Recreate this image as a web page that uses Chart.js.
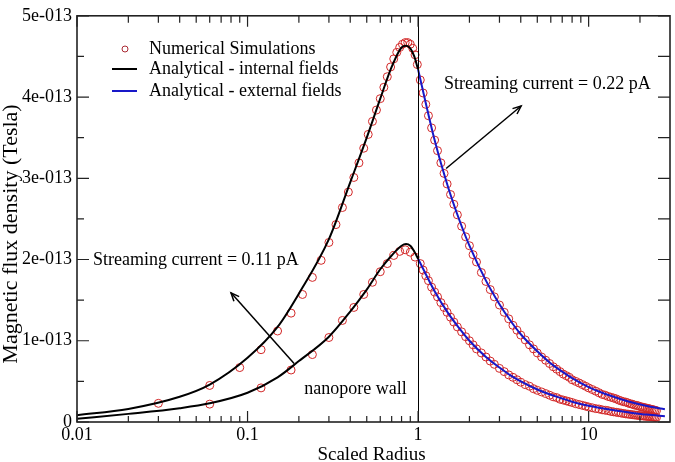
<!DOCTYPE html>
<html>
<head>
<meta charset="utf-8">
<script src="https://cdn.jsdelivr.net/npm/chart.js@4/dist/chart.umd.min.js"></script>
<style>
  body { margin: 0; background: #fff; }
  #wrap { width: 675px; height: 462px; }
</style>
</head>
<body>
<div id="wrap"><canvas id="myChart" width="675" height="462"></canvas></div>
<script>
// y values are in units of 1e-13 Tesla

// axis ticks
const xMajor = [0.01, 0.1, 1, 10];
const xTickLabels = ['0.01', '0.1', '1', '10'];
const xMinor = [0.02, 0.03, 0.04, 0.05, 0.06, 0.07, 0.08, 0.09,
                0.2, 0.3, 0.4, 0.5, 0.6, 0.7, 0.8, 0.9,
                2, 3, 4, 5, 6, 7, 8, 9, 20];
const yMajor = [0, 1, 2, 3, 4, 5];
const yTickLabels = ['0', '1e-013', '2e-013', '3e-013', '4e-013', '5e-013'];
const yMinor = [0.5, 1.5, 2.5, 3.5, 4.5];

// analytical - internal fields (black)
const inLineX = [0.01, 0.02, 0.04, 0.06, 0.1, 0.15, 0.2, 0.3, 0.4, 0.5, 0.6, 0.7, 0.8, 0.85, 0.9, 0.95, 1.0];
const inLineUpper = [0.084, 0.16, 0.31, 0.46, 0.79, 1.17, 1.58, 2.25, 2.95, 3.50, 3.98, 4.37, 4.61, 4.63, 4.60, 4.50, 4.34];
const inLineLower = [0.04, 0.10, 0.17, 0.23, 0.36, 0.55, 0.75, 1.05, 1.36, 1.63, 1.88, 2.05, 2.17, 2.19, 2.17, 2.10, 2.01];

// analytical - external fields (blue)
const outLineX = [1, 1.25, 1.5, 1.75, 2, 2.5, 3, 3.5, 4, 5, 6, 7, 8, 10, 12, 15, 18, 22, 28];
const outLineUpper = [4.34, 3.47, 2.89, 2.48, 2.17, 1.74, 1.45, 1.24, 1.08, 0.87, 0.72, 0.62, 0.54, 0.43, 0.36, 0.29, 0.24, 0.197, 0.157];
const outLineLower = [2.01, 1.61, 1.34, 1.15, 1.00, 0.80, 0.67, 0.57, 0.50, 0.40, 0.335, 0.29, 0.25, 0.20, 0.168, 0.134, 0.112, 0.091, 0.072];

// numerical simulations (red circles), inside
const simUpperInX = [0.03, 0.06, 0.09, 0.12, 0.15, 0.18, 0.21, 0.24, 0.27, 0.30, 0.33, 0.36, 0.39, 0.42, 0.45, 0.48,
                     0.51, 0.54, 0.57, 0.60, 0.63, 0.66, 0.69, 0.72, 0.75, 0.78, 0.81, 0.84, 0.87, 0.90, 0.93, 0.96, 0.99];
const simUpperIn = [0.23, 0.45, 0.67, 0.89, 1.12, 1.34, 1.57, 1.78, 1.99, 2.21, 2.43, 2.64, 2.83, 3.01, 3.19, 3.37,
                    3.54, 3.70, 3.84, 3.98, 4.12, 4.25, 4.37, 4.47, 4.55, 4.61, 4.65, 4.67, 4.67, 4.65, 4.60, 4.52, 4.40];
const simLowerInX = [0.06, 0.12, 0.18, 0.24, 0.30, 0.36, 0.42, 0.48, 0.54, 0.60, 0.66, 0.72, 0.78, 0.84, 0.90, 0.96];
const simLowerIn = [0.22, 0.42, 0.64, 0.83, 1.04, 1.25, 1.41, 1.57, 1.72, 1.85, 1.95, 2.05, 2.10, 2.12, 2.09, 2.03];

// numerical simulations, outside
const simOutX = [1.03, 1.07, 1.11, 1.15, 1.2, 1.25, 1.3, 1.36, 1.42, 1.48, 1.55, 1.62, 1.7, 1.8, 1.9, 2.0,
                 2.1, 2.2, 2.35, 2.5, 2.65, 2.8, 3.0, 3.2, 3.4, 3.6, 3.8, 4.0, 4.25, 4.5, 4.75, 5.0,
                 5.3, 5.6, 5.9, 6.2, 6.5, 6.8, 7.1, 7.4, 7.7, 8.0, 8.4, 8.8, 9.2, 9.6, 10, 10.5,
                 11, 11.5, 12, 12.5, 13, 13.5, 14, 14.5, 15, 15.5, 16, 16.5, 17, 17.5, 18, 18.5,
                 19, 19.5, 20, 20.5, 21, 21.5, 22, 22.5, 23, 23.5, 24, 24.5, 25];
const simUpperOut = [4.21, 4.05, 3.91, 3.77, 3.62, 3.47, 3.34, 3.19, 3.06, 2.93, 2.80, 2.68, 2.55, 2.41, 2.28, 2.17,
                     2.06, 1.97, 1.84, 1.73, 1.63, 1.54, 1.44, 1.35, 1.27, 1.19, 1.13, 1.07, 1.01, 0.95, 0.90, 0.85,
                     0.80, 0.76, 0.72, 0.68, 0.65, 0.62, 0.59, 0.57, 0.55, 0.52, 0.50, 0.48, 0.46, 0.44, 0.42, 0.40,
                     0.38, 0.36, 0.34, 0.33, 0.315, 0.305, 0.295, 0.285, 0.27, 0.26, 0.25, 0.245, 0.235, 0.225, 0.22, 0.21,
                     0.205, 0.20, 0.19, 0.185, 0.18, 0.175, 0.17, 0.165, 0.16, 0.155, 0.15, 0.145, 0.14];
const simLowerOut = [1.95, 1.87, 1.80, 1.74, 1.66, 1.60, 1.54, 1.47, 1.41, 1.35, 1.29, 1.23, 1.17, 1.11, 1.05, 1.00,
                     0.95, 0.90, 0.85, 0.80, 0.75, 0.71, 0.66, 0.62, 0.58, 0.55, 0.52, 0.49, 0.46, 0.44, 0.41, 0.39,
                     0.37, 0.35, 0.33, 0.31, 0.30, 0.28, 0.27, 0.26, 0.25, 0.24, 0.225, 0.215, 0.205, 0.195, 0.185, 0.175,
                     0.165, 0.16, 0.15, 0.145, 0.14, 0.13, 0.125, 0.12, 0.115, 0.11, 0.105, 0.10, 0.097, 0.094, 0.09, 0.087,
                     0.084, 0.081, 0.078, 0.076, 0.073, 0.071, 0.069, 0.067, 0.065, 0.063, 0.061, 0.059, 0.057];

// annotations (data coordinates)
const wallX = 1;
const upperArrow = { from: [1.46, 3.12], to: [4.02, 3.89] };
const lowerArrow = { from: [0.1875, 0.72], to: [0.080, 1.59] };
const notes = [
    { text: 'Streaming current = 0.22 pA', x: 1.42, y: 4.10 },
    { text: 'Streaming current = 0.11 pA', x: 0.0124, y: 1.93 },
    { text: 'nanopore wall', x: 0.215, y: 0.35 }
];

const RED = 'rgb(210,40,40)';
const BLUE = 'rgb(24,24,200)';
const FONT = '"Liberation Serif", "Times New Roman", serif';

function pts(xs, ys) {
    return xs.map((x, i) => ({ x: x, y: ys[i] }));
}

function simSet(xs, ys) {
    return {
        data: pts(xs, ys),
        showLine: false,
        pointStyle: 'circle',
        pointRadius: 4,
        pointBorderWidth: 1,
        pointBorderColor: RED,
        pointBackgroundColor: 'rgba(0,0,0,0)',
        order: 2
    };
}

function lineSet(xs, ys, color) {
    return {
        data: pts(xs, ys),
        showLine: true,
        borderColor: color,
        borderWidth: 2,
        pointRadius: 0,
        cubicInterpolationMode: 'monotone',
        order: 1
    };
}

function arrow(ctx, x1, y1, x2, y2) {
    ctx.beginPath();
    ctx.moveTo(x1, y1);
    ctx.lineTo(x2, y2);
    ctx.stroke();
    let a = Math.atan2(y2 - y1, x2 - x1);
    let len = 9;
    ctx.beginPath();
    ctx.moveTo(x2 - len * Math.cos(a - 0.4), y2 - len * Math.sin(a - 0.4));
    ctx.lineTo(x2, y2);
    ctx.lineTo(x2 - len * Math.cos(a + 0.4), y2 - len * Math.sin(a + 0.4));
    ctx.stroke();
}

const decorations = {
    id: 'decorations',
    afterDatasetsDraw(chart) {
        const ctx = chart.ctx;
        const xs = chart.scales.x;
        const ys = chart.scales.y;
        const area = chart.chartArea;
        ctx.save();

        // nanopore wall
        ctx.strokeStyle = '#000';
        ctx.lineWidth = 1;
        let wx = Math.round(xs.getPixelForValue(wallX)) + 0.5;
        ctx.beginPath();
        ctx.moveTo(wx, area.top);
        ctx.lineTo(wx, area.bottom);
        ctx.stroke();

        // frame
        ctx.strokeStyle = '#222';
        ctx.lineWidth = 1.6;
        ctx.strokeRect(area.left, area.top, area.right - area.left, area.bottom - area.top);

        // inward ticks
        ctx.lineWidth = 1.2;
        ctx.beginPath();
        xMajor.forEach(v => {
            let px = xs.getPixelForValue(v);
            ctx.moveTo(px, area.bottom); ctx.lineTo(px, area.bottom - 11);
            ctx.moveTo(px, area.top); ctx.lineTo(px, area.top + 11);
        });
        xMinor.forEach(v => {
            let px = xs.getPixelForValue(v);
            ctx.moveTo(px, area.bottom); ctx.lineTo(px, area.bottom - 6);
            ctx.moveTo(px, area.top); ctx.lineTo(px, area.top + 7);
        });
        yMajor.forEach(v => {
            let py = ys.getPixelForValue(v);
            ctx.moveTo(area.left, py); ctx.lineTo(area.left + 12, py);
            ctx.moveTo(area.right, py); ctx.lineTo(area.right - 12, py);
        });
        yMinor.forEach(v => {
            let py = ys.getPixelForValue(v);
            ctx.moveTo(area.left, py); ctx.lineTo(area.left + 7, py);
            ctx.moveTo(area.right, py); ctx.lineTo(area.right - 12, py);
        });
        ctx.stroke();

        // arrows
        ctx.strokeStyle = '#000';
        ctx.lineWidth = 1.5;
        [upperArrow, lowerArrow].forEach(a => {
            arrow(ctx,
                xs.getPixelForValue(a.from[0]), ys.getPixelForValue(a.from[1]),
                xs.getPixelForValue(a.to[0]), ys.getPixelForValue(a.to[1]));
        });

        // notes
        ctx.fillStyle = '#000';
        ctx.font = '18px ' + FONT;
        ctx.textAlign = 'left';
        ctx.textBaseline = 'alphabetic';
        notes.forEach(n => {
            ctx.fillText(n.text, xs.getPixelForValue(n.x), ys.getPixelForValue(n.y));
        });

        // legend
        ctx.textBaseline = 'middle';
        ctx.strokeStyle = 'rgb(170,40,50)';
        ctx.lineWidth = 1;
        ctx.beginPath();
        ctx.arc(125, 49, 3, 0, Math.PI * 2);
        ctx.stroke();
        ctx.lineWidth = 2;
        ctx.strokeStyle = '#000';
        ctx.beginPath(); ctx.moveTo(112, 69); ctx.lineTo(137, 69); ctx.stroke();
        ctx.strokeStyle = BLUE;
        ctx.beginPath(); ctx.moveTo(112, 91); ctx.lineTo(137, 91); ctx.stroke();
        ctx.fillText('Numerical Simulations', 149, 49);
        ctx.fillText('Analytical - internal fields', 149, 69);
        ctx.fillText('Analytical - external fields', 149, 91);

        // axis titles
        ctx.textAlign = 'center';
        ctx.textBaseline = 'alphabetic';
        ctx.font = '19px ' + FONT;
        ctx.fillText('Scaled Radius', (area.left + area.right) / 2 - 2, 460);
        ctx.translate(17, 234);
        ctx.rotate(-Math.PI / 2);
        ctx.font = '22px ' + FONT;
        ctx.fillText('Magnetic flux density (Tesla)', 0, 0);
        ctx.restore();
    }
};

const ctx = document.getElementById('myChart').getContext('2d');
new Chart(ctx, {
    type: 'scatter',
    data: {
        datasets: [
            simSet(simUpperInX, simUpperIn),
            simSet(simLowerInX, simLowerIn),
            simSet(simOutX, simUpperOut),
            simSet(simOutX, simLowerOut),
            lineSet(inLineX, inLineUpper, '#000'),
            lineSet(inLineX, inLineLower, '#000'),
            lineSet(outLineX, outLineUpper, BLUE),
            lineSet(outLineX, outLineLower, BLUE)
        ]
    },
    options: {
        responsive: false,
        animation: false,
        layout: { padding: { left: 0, top: 7, right: 5, bottom: 0 } },
        plugins: { legend: { display: false }, tooltip: { enabled: false } },
        scales: {
            x: {
                type: 'logarithmic',
                min: 0.01,
                max: 30,
                afterBuildTicks: s => { s.ticks = xMajor.map(v => ({ value: v })); },
                afterFit: s => { s.height = 40; },
                grid: { display: false, drawTicks: false },
                border: { display: false },
                ticks: {
                    autoSkip: false,
                    maxRotation: 0,
                    padding: 2,
                    color: '#000',
                    font: { family: FONT, size: 18 },
                    callback: (v, i) => xTickLabels[i]
                }
            },
            y: {
                type: 'linear',
                min: 0,
                max: 5,
                afterBuildTicks: s => { s.ticks = yMajor.map(v => ({ value: v })); },
                afterFit: s => { s.width = 77; },
                grid: { display: false, drawTicks: false },
                border: { display: false },
                ticks: {
                    autoSkip: false,
                    padding: 5,
                    color: '#000',
                    font: { family: FONT, size: 18 },
                    callback: (v, i) => yTickLabels[i]
                }
            }
        }
    },
    plugins: [decorations]
});
</script>
</body>
</html>
